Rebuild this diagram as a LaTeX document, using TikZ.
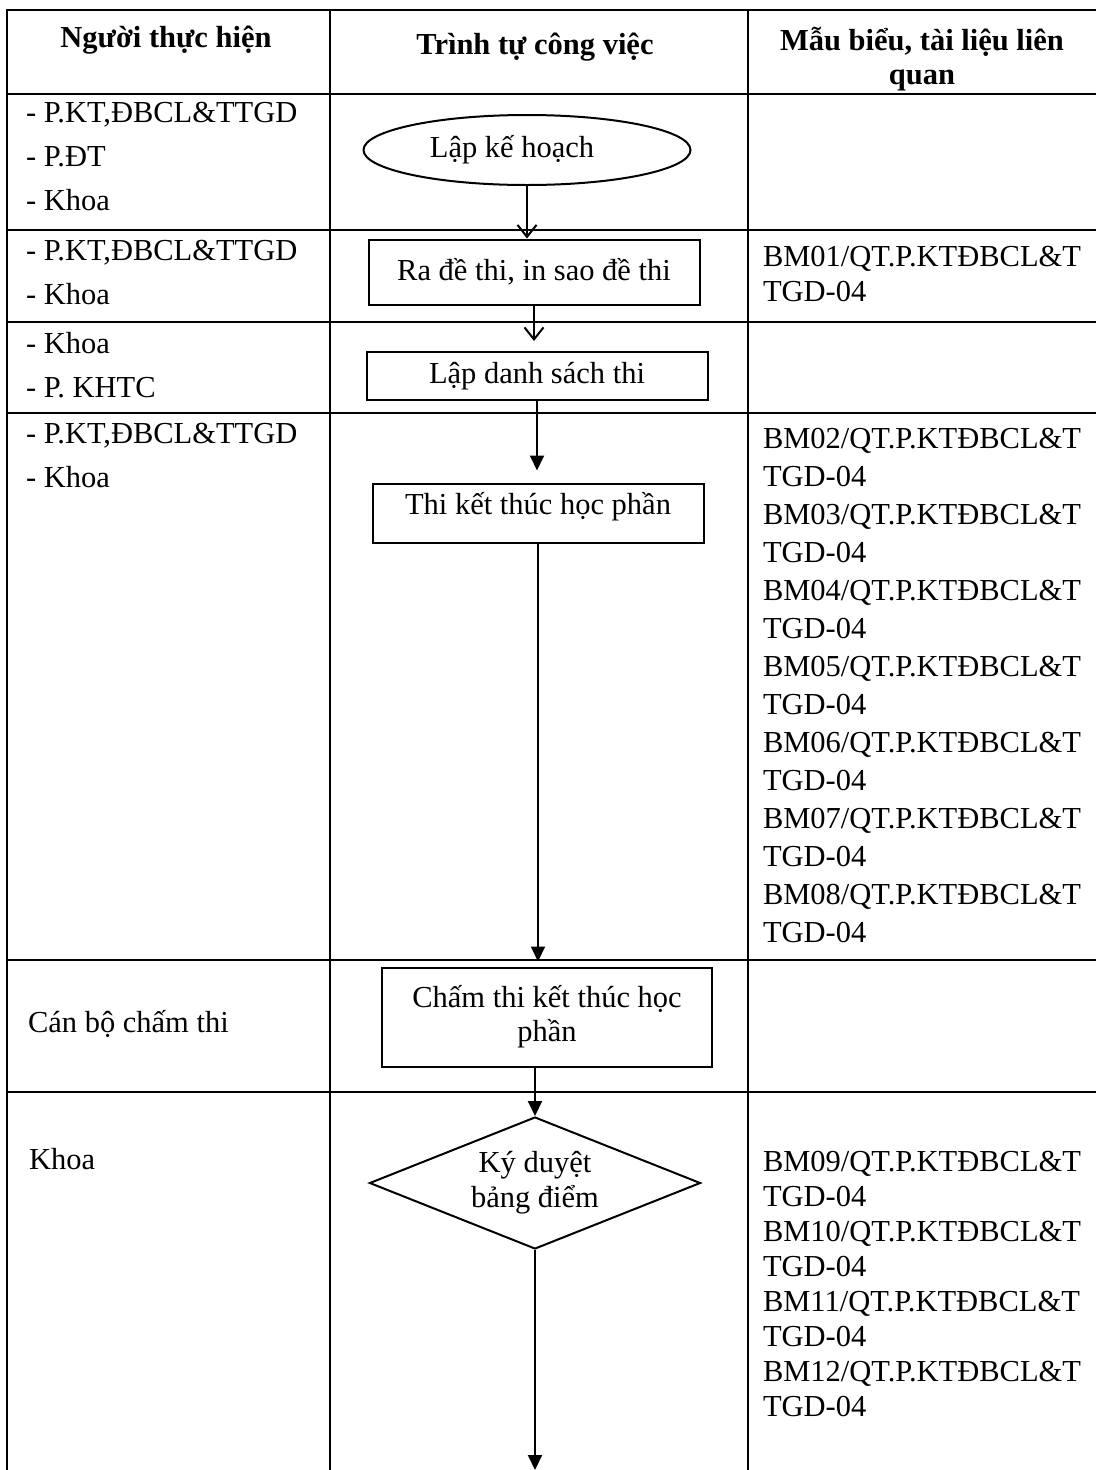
\documentclass[tikz,border=0pt]{standalone}
\usepackage{fontspec}
\setmainfont{Liberation Serif}
\usetikzlibrary{shapes.geometric,arrows.meta}

\begin{document}
\begin{tikzpicture}[
    x=1pt, y=-1pt, % one unit = one pixel of the scan, y runs downwards
    line width=2pt, % line style
    > = {Triangle[length=15pt,width=14pt]}, % arrow head style
    font=\fontsize{30.5}{38}\selectfont,
    open/.style={-{Straight Barb[length=12pt,width=19pt]}},
    head/.style={font=\fontsize{30.5}{34}\selectfont\bfseries, align=center},
    who/.style={anchor=north west, align=left, inner sep=0pt, font=\fontsize{30.5}{44}\selectfont},
    form/.style={anchor=north west, align=left, inner sep=0pt},
    terminal/.style={draw, ellipse, inner sep=0pt, minimum width=327pt, minimum height=70pt},
    process/.style={draw, rectangle, align=center, inner sep=0pt},
    decision/.style={draw, diamond, aspect=2.5, align=center, inner sep=0pt,
        minimum width=331pt, minimum height=132pt, font=\fontsize{30.5}{35}\selectfont},
]
\useasboundingbox (0,0) rectangle (1096,1470);

% table frame
\draw (7,1470) -- (7,10) -- (1096,10);
\draw (330,10) -- (330,1470) (748,10) -- (748,1470);
\draw (7,94) -- (1096,94)  (7,230) -- (1096,230)  (7,322) -- (1096,322)
      (7,413) -- (1096,413)  (7,960) -- (1096,960)  (7,1092) -- (1096,1092);

% header
\node[head] (h1) at (166,40) {Người thực hiện};
\node[head] (h2) at (535,47) {Trình tự công việc};
\node[head] (h3) at (922,59) {Mẫu biểu, tài liệu liên\\quan};

% flow
\node[terminal] (plan) at (527,150) {Lập kế hoạch\hspace*{30pt}};
\node[process, minimum width=331pt, minimum height=65pt] (draft) at (534,272) {Ra đề thi, in sao đề thi};
\node[process, minimum width=341pt, minimum height=48pt] (roster) at (537,376) {Lập danh sách thi};
\node[process, minimum width=331pt, inner ysep=8pt, text height=23pt, text depth=20pt] (exam) at (538,513) {Thi kết thúc học phần};
\node[process, minimum width=330pt, minimum height=99pt, font=\fontsize{30.5}{34}\selectfont] (grade) at (547,1017) {Chấm thi kết thúc học\\phần};
\node[decision] (sign) at (535,1183) {Ký duyệt\\bảng điểm};
\coordinate (next) at (538,1470);

\draw[open] (plan.south) -- (plan.south |- draft.north);
\draw[open, shorten >=10pt] (draft.south) -- (draft.south |- roster.north);
\draw[->, shorten >=12pt] (roster.south) -- (roster.south |- exam.north);
\draw[->, shorten >=5pt] (exam.south) -- (exam.south |- grade.north);
\draw[->] (sign.north |- grade.south) -- (sign.north);
\draw[->] (sign.south) -- (sign.south |- next);

% who does it
\node[who] (w1) at (25,101) {- P.KT,ĐBCL\&TTGD\\- P.ĐT\\- Khoa};
\node[who] (w2) at (25,239) {- P.KT,ĐBCL\&TTGD\\- Khoa};
\node[who] (w3) at (25,331) {- Khoa\\- P. KHTC};
\node[who] (w4) at (25,422) {- P.KT,ĐBCL\&TTGD\\- Khoa};
\node[who, anchor=west] (w5) at (27,1024) {Cán bộ chấm thi};
\node[who] (w6) at (28,1147) {Khoa};

% forms
\node[form, font=\fontsize{30.5}{35}\selectfont] (f1) at (762,245) {BM01/QT.P.KTĐBCL\&T\\TGD-04};
\node[form] (f2) at (762,427) {BM02/QT.P.KTĐBCL\&T\\TGD-04\\BM03/QT.P.KTĐBCL\&T\\TGD-04\\
    BM04/QT.P.KTĐBCL\&T\\TGD-04\\BM05/QT.P.KTĐBCL\&T\\TGD-04\\BM06/QT.P.KTĐBCL\&T\\TGD-04\\
    BM07/QT.P.KTĐBCL\&T\\TGD-04\\BM08/QT.P.KTĐBCL\&T\\TGD-04};
\node[form, font=\fontsize{30.5}{35}\selectfont] (f3) at (762,1150) {BM09/QT.P.KTĐBCL\&T\\TGD-04\\
    BM10/QT.P.KTĐBCL\&T\\TGD-04\\BM11/QT.P.KTĐBCL\&T\\TGD-04\\BM12/QT.P.KTĐBCL\&T\\TGD-04};
\end{tikzpicture}
\end{document}
